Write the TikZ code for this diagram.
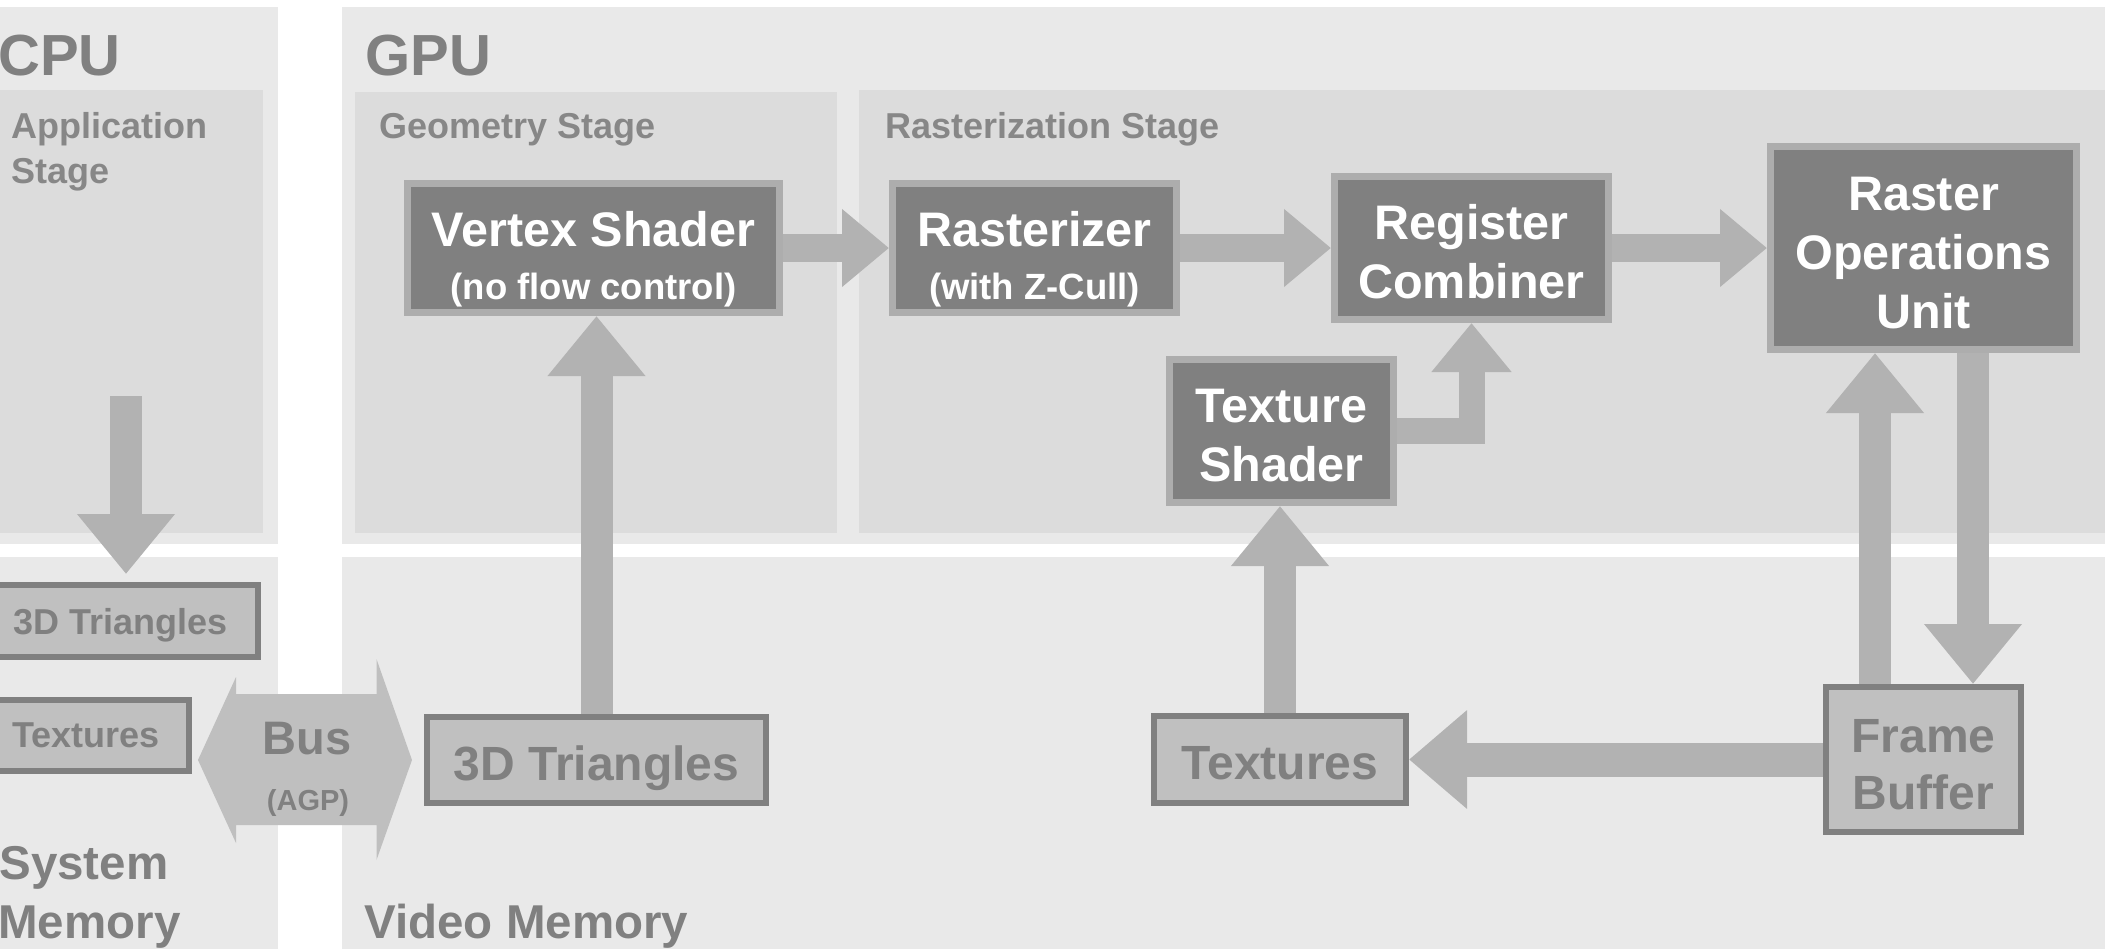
\documentclass[tikz,border=0pt]{standalone}
\usepackage{fontspec}
\setmainfont{Liberation Sans}
\usetikzlibrary{arrows.meta}
\definecolor{panelc}{HTML}{E9E9E9}
\definecolor{stagec}{HTML}{DCDCDC}
\definecolor{darkc}{HTML}{808080}
\definecolor{dborder}{HTML}{ADADAD}
\definecolor{arrowc}{HTML}{B2B2B2}
\definecolor{memfill}{HTML}{C0C0C0}
\definecolor{busc}{HTML}{BFBFBF}
\definecolor{labelc}{HTML}{878787}
\newcommand{\topstrut}[1]{\rule{0pt}{#1}}
\begin{document}
\begin{tikzpicture}[x=0.5pt,y=-0.5pt,
  darkbox/.style={draw=dborder, line width=3.5pt, fill=darkc, text=white, align=center, inner sep=0pt,
    font=\bfseries\fontsize{24.25}{29.5}\selectfont},
  membox/.style={draw=darkc, line width=3pt, fill=memfill, text=darkc, align=center, inner sep=0pt},
  memsmall/.style={membox, font=\bfseries\fontsize{18}{22}\selectfont},
  membig/.style={membox, font=\bfseries\fontsize{24}{28.5}\selectfont},
  titletext/.style={anchor=base west, inner sep=0pt, text=darkc},
  bigtitle/.style={titletext, font=\bfseries\fontsize{29}{34}\selectfont},
  memtitle/.style={titletext, font=\bfseries\fontsize{23.75}{29}\selectfont},
  stagetext/.style={anchor=base west, inner sep=0pt, text=labelc, font=\bfseries\fontsize{18}{22.5}\selectfont},
  vbig/.style={draw=arrowc, line width=16pt, -{Triangle[length=30pt,width=47pt]}},
  hmain/.style={draw=arrowc, line width=14pt, -{Triangle[length=23.5pt,width=37.5pt]}},
  hsmall/.style={draw=arrowc, line width=13pt, line join=miter, -{Triangle[length=24.5pt,width=38.5pt]}},
  hfb/.style={draw=arrowc, line width=17pt, -{Triangle[length=29pt,width=47.5pt]}}
]
\useasboundingbox (0,0) rectangle (2105,949);
\fill[white] (0,0) rectangle (2105,949);
% panels
\fill[panelc] (0,7) rectangle (278,544);
\fill[panelc] (342,7) rectangle (2105,544);
\fill[panelc] (0,557) rectangle (278,949);
\fill[panelc] (342,557) rectangle (2105,949);
% stages
\fill[stagec] (0,90) rectangle (263,533);
\fill[stagec] (355,92) rectangle (837,533);
\fill[stagec] (859,90) rectangle (2105,533);
% titles
\node[bigtitle] (cpu) at (-2,75) {CPU};
\node[bigtitle] (gpu) at (365,75) {GPU};
\node[stagetext] (app1) at (11,138) {Application};
\node[stagetext] (app2) at (11,183) {Stage};
\node[stagetext] (geo) at (379,138) {Geometry Stage};
\node[stagetext] (ras) at (885,138) {Rasterization Stage};
\node[memtitle] (sys1) at (-1,879) {System};
\node[memtitle] (sys2) at (-2,938) {Memory};
\node[memtitle] (vmem) at (364,938) {Video Memory};
% bus
\fill[busc] (198,760) -- (236,677) -- (236,694) -- (376.5,694) -- (376.5,659) -- (412,760)
  -- (376.5,860) -- (376.5,825) -- (236,825) -- (236,843) -- cycle;
\node[anchor=base, inner sep=0pt, text=darkc, font=\bfseries\fontsize{23.5}{28}\selectfont] (bus) at (307,754) {Bus};
\node[anchor=base, inner sep=0pt, text=darkc, font=\bfseries\fontsize{14.5}{17}\selectfont] (agp) at (308,810) {(AGP)};
% dark boxes
\node[darkbox, minimum width=186pt, minimum height=64.5pt] (vs) at (593.5,248)
  {\topstrut{28.9pt}Vertex Shader\\[-2.7pt]{\fontsize{18.25}{21.5}\selectfont (no flow control)}};
\node[darkbox, minimum width=142pt, minimum height=64.5pt] (rast) at (1034.5,248)
  {\topstrut{28.9pt}Rasterizer\\[-2.7pt]{\fontsize{18.25}{21.5}\selectfont (with Z-Cull)}};
\node[darkbox, minimum width=137pt, minimum height=71.5pt] (reg) at (1471.5,248) {\topstrut{21.7pt}Register\\Combiner};
\node[darkbox, minimum width=153pt, minimum height=101.5pt] (rop) at (1923.5,248) {\topstrut{21.5pt}Raster\\Operations\\Unit};
\node[darkbox, minimum width=112pt, minimum height=71.5pt] (ts) at (1281.5,431) {\topstrut{21.5pt}Texture\\Shader};
% memory boxes
\node[memsmall, minimum width=137.5pt, minimum height=36pt, text depth=0pt] (sys3d) at (120.5,621) {3D Triangles};
\node[memsmall, minimum width=103pt, minimum height=35.5pt, text depth=0pt] (systex) at (86,735.5) {Textures};
\node[membig, minimum width=169.5pt, minimum height=43pt, text height=20.2pt, text depth=0pt] (v3d) at (596.5,760) {3D Triangles};
\node[membig, minimum width=126pt, minimum height=43.5pt, text height=20.2pt, text depth=0pt] (vtex) at (1280,759.5) {Textures};
\node[membig, minimum width=97.5pt, minimum height=72.5pt] (fb) at (1923.5,759.5) {\topstrut{21.3pt}Frame\\Buffer};
% connectors
\coordinate (cpuA) at (126,396);
\coordinate (cpuB) at (126,574);
\draw[vbig] (cpuA) -- (cpuB);
\draw[vbig] (v3d.north) -- (v3d.north |- vs.south);
\draw[hmain] (vs.east) -- (rast.west);
\draw[hmain] (rast.east) -- (reg.west);
\draw[hmain] (reg.east) -- (rop.west);
\draw[hsmall] (ts.east) -| (reg.south);
\draw[vbig] (vtex.north) -- (vtex.north |- ts.south);
\draw[hfb] (fb.west) -- (vtex.east);
\draw[vbig] ([xshift=-24.25pt]fb.north) -- ([xshift=-24.25pt]fb.north |- rop.south);
\draw[vbig] ([xshift=24.75pt]rop.south) -- ([xshift=24.75pt]rop.south |- fb.north);
\end{tikzpicture}
\end{document}
